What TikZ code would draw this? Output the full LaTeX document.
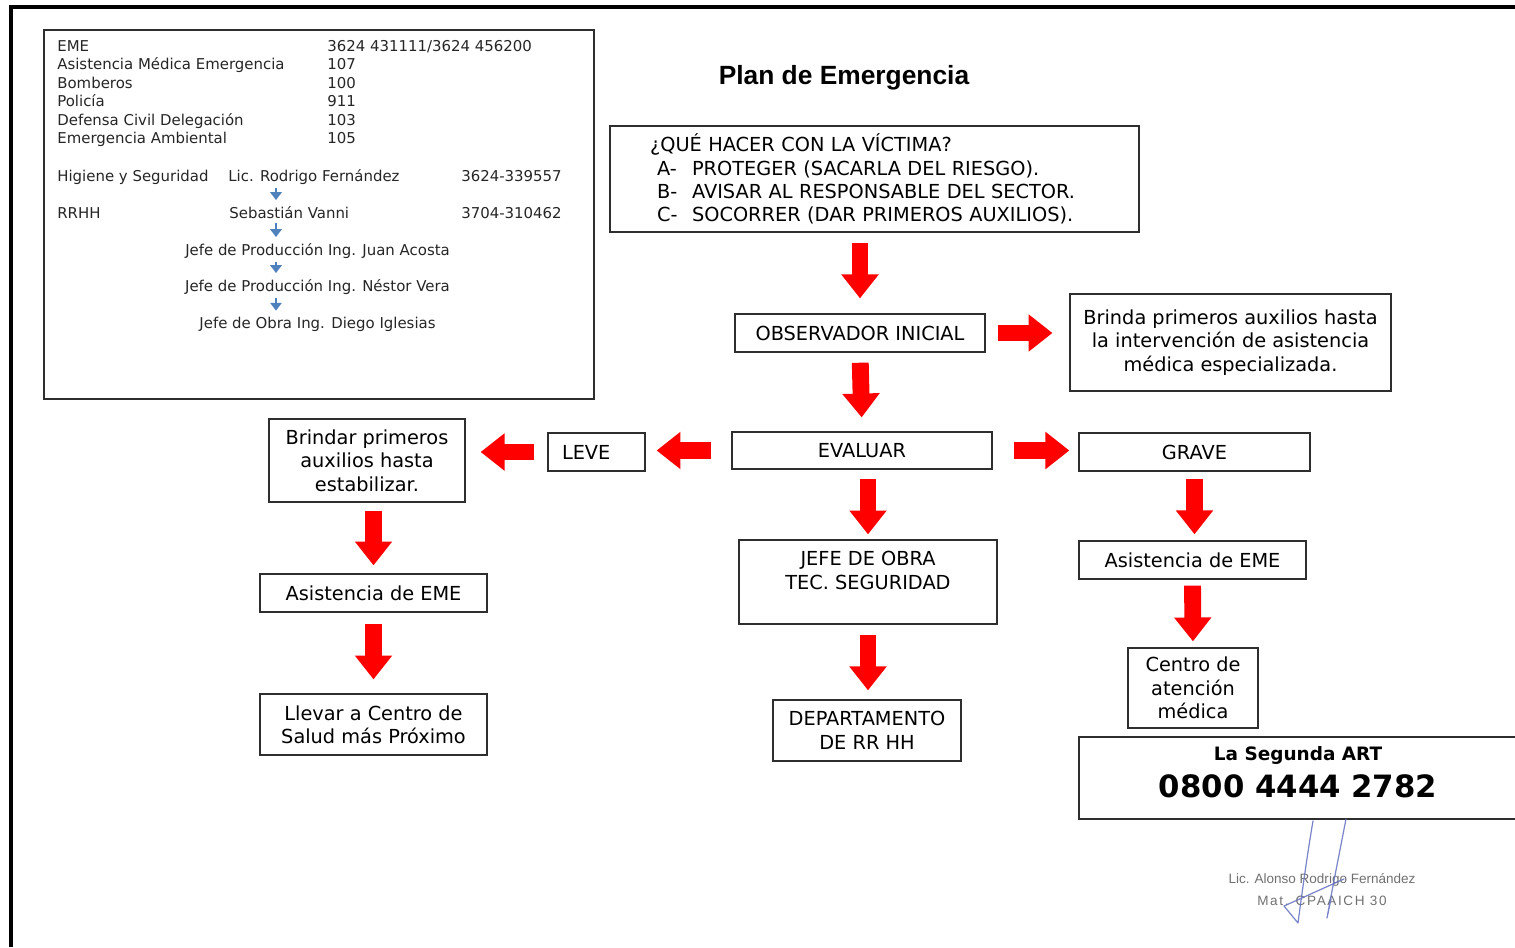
\documentclass[tikz,border=0pt]{standalone}
\usepackage{fontspec}
\setmainfont{DejaVu Sans}
\newfontfamily\titlefont{Liberation Sans}
\usetikzlibrary{arrows.meta}
\definecolor{arrred}{HTML}{FF0000}
\definecolor{stepblue}{HTML}{4F81BD}
\definecolor{boxline}{HTML}{2E2E2E}
\definecolor{sigblue}{HTML}{6470C0}
\definecolor{stampgray}{HTML}{707070}
\tikzset{
  box/.style={rectangle, draw=boxline, line width=0.8pt, fill=white, align=center,
              font=\fontsize{11}{13.3}\selectfont, inner sep=2pt},
  bigarrow/.style={draw=arrred, line width=9.6pt, -{Triangle[length=13.6pt, width=20.4pt]},
              shorten <=4.5pt, shorten >=4.5pt},
  infotext/.style={anchor=base west, inner sep=0pt, font=\fontsize{8.5}{10.4}\selectfont, text=black!85},
  infomid/.style={infotext, anchor=base},
  stepdown/.style={draw=stepblue, line width=1.2pt, -{Triangle[length=4.5pt, width=6.5pt]},
              shorten <=2pt, shorten >=3.5pt},
  stamp/.style={font=\titlefont\fontsize{7.7}{9}\selectfont, text=stampgray, inner sep=0pt},
  sig/.style={draw=sigblue, line width=0.7pt, line cap=round, line join=round, opacity=0.85},
}

\begin{document}
\begin{tikzpicture}[x=0.02cm, y=-0.02cm]
  \useasboundingbox (0,0) rectangle (1515,947);
  \clip (0,0) rectangle (1515,947);
  \draw[line width=2.3pt] (11,947) -- (11,7) -- (1515,7);

  % --- recuadro de telefonos
  \node[box, minimum width=11cm, minimum height=7.38cm] (info) at (319,214.5) {};
  \foreach \t/\n [count=\i from 0] in {EME/{3624 431111/3624 456200}, Asistencia Médica Emergencia/107,
      Bomberos/100, Policía/911, Defensa Civil Delegación/103, Emergencia Ambiental/105}{
    \node[infotext] (nom\i) at (57,51.5+18.4*\i) {\t};
    \node[infotext] (tel\i) at (327,51.5+18.4*\i) {\n};
  }
  \node[infotext] (hys)   at (57,181.5)  {Higiene y Seguridad};
  \node[infotext] (lic)   at (228,181.5) {Lic. Rodrigo Fernández};
  \node[infotext] (hystel) at (461,181.5) {3624-339557};
  \node[infotext] (rrhh)  at (57,218.5)  {RRHH};
  \node[infotext] (sv)    at (229,218.5) {Sebastián Vanni};
  \node[infotext] (svtel) at (461,218.5) {3704-310462};
  \node[infomid] (jpa) at (317.5,255.5) {Jefe de Producción Ing. Juan Acosta};
  \node[infomid] (jpv) at (317.5,291.5) {Jefe de Producción Ing. Néstor Vera};
  \node[infomid] (jo)  at (317.5,328.5) {Jefe de Obra Ing. Diego Iglesias};
  \coordinate (ax) at (276,0);
  \foreach \a/\b in {lic/sv, sv/jpa, jpa/jpv, jpv/jo}{ \draw[stepdown] (ax |- \a.south) -- (ax |- \b.north); }

  % --- titulo y pregunta
  \node[font=\titlefont\bfseries\fontsize{15}{18}\selectfont] (title) at (844,78) {Plan de Emergencia};
  \node[box, minimum width=10.58cm, minimum height=2.12cm, text width=8.98cm, align=left] (q) at (874.5,179)
    {¿QUÉ HACER CON LA VÍCTIMA?\\
     \hspace*{1.4mm}\makebox[7mm][l]{A-}PROTEGER (SACARLA DEL RIESGO).\\
     \hspace*{1.4mm}\makebox[7mm][l]{B-}AVISAR AL RESPONSABLE DEL SECTOR.\\
     \hspace*{1.4mm}\makebox[7mm][l]{C-}SOCORRER (DAR PRIMEROS AUXILIOS).};

  % --- columna central
  \node[box, minimum width=5cm, minimum height=0.76cm] (obs) at (860,333) {OBSERVADOR INICIAL};
  \node[box, minimum width=6.42cm, minimum height=1.94cm] (brinda) at (1230.5,342.5)
    {Brinda primeros auxilios hasta\\la intervención de asistencia\\médica especializada.};
  \node[box, minimum width=5.2cm, minimum height=0.74cm] (eval) at (862,450.5) {EVALUAR};
  \node[box, minimum width=5.16cm, minimum height=1.68cm] (jefe) at (868,582) {JEFE DE OBRA\\TEC. SEGURIDAD\\\mbox{}};
  \node[box, minimum width=3.76cm, minimum height=1.22cm] (dep) at (867,730.5) {DEPARTAMENTO\\DE RR HH};

  % --- rama LEVE
  \node[box, minimum width=1.94cm, minimum height=0.76cm, text width=1.38cm, align=left] (leve) at (596.5,452) {LEVE};
  \node[box, minimum width=3.92cm, minimum height=1.66cm] (brindar) at (367,460.5) {Brindar primeros\\auxilios hasta\\estabilizar.};
  \node[box, minimum width=4.54cm, minimum height=0.76cm] (asistl) at (373.5,593) {Asistencia de EME};
  \node[box, minimum width=4.54cm, minimum height=1.22cm] (llevar) at (373.5,724.5) {Llevar a Centro de\\Salud más Próximo};

  % --- rama GRAVE
  \node[box, minimum width=4.62cm, minimum height=0.76cm] (grave) at (1194.5,452) {GRAVE};
  \node[box, minimum width=4.54cm, minimum height=0.76cm] (asistr) at (1192.5,560) {Asistencia de EME};
  \node[box, minimum width=2.6cm, minimum height=1.6cm] (centro) at (1193,688) {Centro de\\atención\\médica};
  \node[box, minimum width=8.76cm, minimum height=1.64cm] (art) at (1298,778) {};
  \node[font=\fontsize{10.5}{12}\selectfont\bfseries] (artname) at (1298,755) {La Segunda ART};
  \node[font=\fontsize{17.5}{20}\selectfont\bfseries] (artnum) at (1298,786) {0800 4444 2782};

  % --- flechas
  \draw[bigarrow, shorten <=5.7pt, shorten >=8.5pt] (obs.north |- q.south) -- (obs.north);
  \draw[bigarrow, shorten <=6.8pt, shorten >=9.6pt] (obs.east) -- (obs.east -| brinda.west);
  \draw[bigarrow, shorten <=5.7pt, shorten >=7.9pt] (obs.south) -- (eval.north);
  \draw[bigarrow, shorten <=11.3pt, shorten >=6.2pt] (eval.west) -- (eval.west -| leve.east);
  \draw[bigarrow, shorten <=7.4pt, shorten >=8.5pt] (leve.west) -- (leve.west -| brindar.east);
  \draw[bigarrow, shorten <=11.9pt, shorten >=5.1pt] (eval.east) -- (eval.east -| grave.west);
  \draw[bigarrow, shorten <=5.1pt, shorten >=2.8pt] (jefe.north |- eval.south) -- (jefe.north);
  \draw[bigarrow, shorten <=5.7pt, shorten >=5.1pt] (jefe.south) -- (jefe.south |- dep.north);
  \draw[bigarrow, shorten <=4pt, shorten >=3.4pt] (grave.south) -- (grave.south |- asistr.north);
  \draw[bigarrow, shorten <=3.4pt, shorten >=3.4pt] (asistr.south) -- (centro.north);
  \draw[bigarrow] (asistl.north |- brindar.south) -- (asistl.north);
  \draw[bigarrow, shorten <=6.2pt, shorten >=7.9pt] (asistl.south) -- (llevar.north);

  % --- sello y firma
  \node[stamp] (stamp1) at (1322,880) {Lic. Alonso Rodrigo Fernández};
  \node[stamp] (stamp2) at (1322,901) {\addfontfeature{LetterSpace=12}Mat. CPAAICH 30};
  \draw[sig] (1313,821) .. controls (1308,850) and (1303,885) .. (1298,923) -- (1284,906) -- (1344,879);
  \draw[sig] (1346,819) .. controls (1339,855) and (1332,890) .. (1327,918) -- (1331,899);
\end{tikzpicture}
\end{document}
